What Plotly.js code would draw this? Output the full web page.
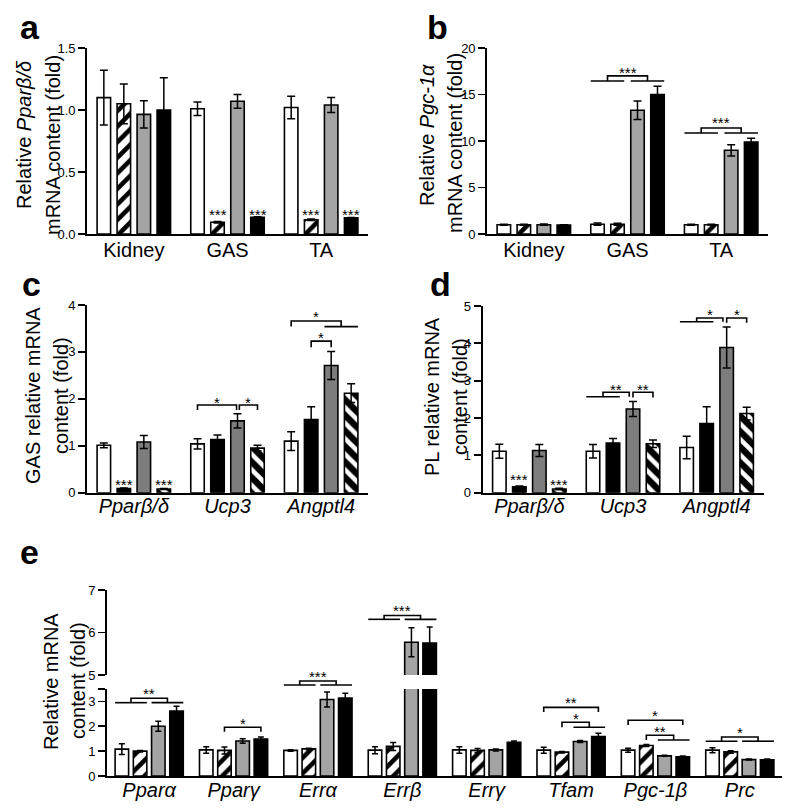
<!DOCTYPE html>
<html><head><meta charset="utf-8">
<script src="https://cdn.plot.ly/plotly-3.0.1.min.js"></script>
<style>html,body{margin:0;padding:0;background:#fff}#chart{width:800px;height:810px}</style>
</head><body><div id="chart"></div>
<script>
// ---------------- DATA ----------------
const catsA = ['Kidney', 'GAS', 'TA'];
const catsC = ['Pparβ/δ', 'Ucp3', 'Angptl4'];
const catsE = ['Pparα', 'Pparγ', 'Errα', 'Errβ', 'Errγ', 'Tfam', 'Pgc-1β', 'Prc'];

// panel a: Ppar beta/delta
const aWhite = [1.10, 1.01, 1.02],   aWhiteErr = [0.22, 0.055, 0.09];
const aHatch = [1.05, 0.095, 0.115], aHatchErr = [0.16, 0.006, 0.006];
const aGray  = [0.965, 1.07, 1.04],  aGrayErr  = [0.11, 0.055, 0.06];
const aBlack = [1.00, 0.135, 0.13],  aBlackErr = [0.26, 0.004, 0.004];

// panel b: Pgc-1 alpha
const bWhite = [1.0, 1.05, 1.0],  bWhiteErr = [0.06, 0.12, 0.06];
const bHatch = [1.0, 1.05, 1.0],  bHatchErr = [0.05, 0.10, 0.04];
const bGray  = [1.0, 13.3, 9.0],  bGrayErr  = [0.07, 1.0, 0.6];
const bBlack = [0.95, 15.0, 9.9], bBlackErr = [0.04, 0.9, 0.4];

// panel c: GAS
const cWhite  = [1.01, 1.04, 1.10], cWhiteErr  = [0.05, 0.11, 0.20];
const cBlack  = [0.09, 1.13, 1.56], cBlackErr  = [0.01, 0.10, 0.27];
const cGray   = [1.08, 1.53, 2.71], cGrayErr   = [0.14, 0.15, 0.30];
const cStripe = [0.08, 0.95, 2.12], cStripeErr = [0.01, 0.06, 0.20];

// panel d: PL
const dWhite  = [1.11, 1.11, 1.21], dWhiteErr  = [0.19, 0.18, 0.30];
const dBlack  = [0.16, 1.33, 1.85], dBlackErr  = [0.02, 0.12, 0.45];
const dGray   = [1.13, 2.24, 3.89], dGrayErr   = [0.16, 0.20, 0.55];
const dStripe = [0.10, 1.31, 2.12], dStripeErr = [0.02, 0.10, 0.17];

// panel e
const eWhite = [1.08, 1.05, 1.03, 1.04, 1.05, 1.04, 1.04, 1.04];
const eWhiteErr = [0.22, 0.13, 0.03, 0.14, 0.13, 0.12, 0.08, 0.10];
const eHatch = [1.00, 1.03, 1.09, 1.19, 1.03, 0.96, 1.23, 0.97];
const eHatchErr = [0.03, 0.14, 0.03, 0.16, 0.08, 0.03, 0.04, 0.05];
const eGray = [2.00, 1.41, 3.08, 5.77, 1.05, 1.39, 0.81, 0.66];
const eGrayErr = [0.20, 0.09, 0.30, 0.34, 0.04, 0.04, 0.02, 0.02];
const eBlack = [2.61, 1.49, 3.14, 5.75, 1.36, 1.59, 0.77, 0.65];
const eBlackErr = [0.20, 0.08, 0.19, 0.38, 0.05, 0.13, 0.03, 0.03];

// significance marks: category index, left/right series (single bar or range), levels
const starsA = [{ci:1,k:1,y:0.19,txt:'***'},{ci:1,k:3,y:0.19,txt:'***'},{ci:2,k:1,y:0.19,txt:'***'},{ci:2,k:3,y:0.19,txt:'***'}];
const sigB = [
  {ci:1, L:[0,1], R:[2,3], top:17.0, bot:16.45, star:17.8, txt:'***'},
  {ci:2, L:[0,1], R:[2,3], top:11.4, bot:10.86, star:12.42, txt:'***'}
];
const starsC = [{ci:0,k:1,y:0.27,txt:'***'},{ci:0,k:3,y:0.27,txt:'***'}];
const sigC = [
  {ci:1, L:[0], R:[2], top:1.87, bot:1.76, star:2.01, txt:'*', gr:-0.01},
  {ci:1, L:[2], R:[3], top:1.87, bot:1.76, star:2.01, txt:'*', gl:0.02},
  {ci:2, L:[0], R:[2,3], top:3.66, bot:3.54, star:3.84, txt:'*'},
  {ci:2, L:[1], R:[2], top:3.23, bot:3.10, star:3.40, txt:'*'}
];
const starsD = [{ci:0,k:1,y:0.47,txt:'***'},{ci:0,k:3,y:0.34,txt:'***'}];
const sigD = [
  {ci:1, L:[0,1], R:[2], top:2.69, bot:2.57, star:2.86, txt:'**', gr:-0.04},
  {ci:1, L:[2], R:[3], top:2.69, bot:2.55, star:2.86, txt:'**', gl:0.0},
  {ci:2, L:[0,1], R:[2], top:4.68, bot:4.58, star:4.88, txt:'*', gr:-0.04},
  {ci:2, L:[2], R:[3], top:4.68, bot:4.55, star:4.88, txt:'*', gl:0.0}
];
const sigE = [
  {ci:0, L:[0,1], R:[2,3], top:3.13, bot:2.95, star:3.46, txt:'**'},
  {ci:1, L:[1], R:[3], top:1.96, bot:1.78, star:2.28, txt:'*'},
  {ci:2, L:[0,1], R:[2,3], top:3.82, bot:3.66, star:4.15, txt:'***'},
  {ci:3, L:[0,1], R:[2,3], top:6.40, bot:6.31, star:6.61, txt:'***', upper:true},
  {ci:5, L:[0], R:[3], top:2.76, bot:2.57, star:3.12, txt:'**'},
  {ci:5, L:[1], R:[2,3], top:2.16, bot:1.96, star:2.49, txt:'*'},
  {ci:6, L:[0], R:[3], top:2.24, bot:2.05, star:2.59, txt:'*'},
  {ci:6, L:[1], R:[2,3], top:1.64, bot:1.45, star:1.96, txt:'**'},
  {ci:7, L:[0,1], R:[2,3], top:1.57, bot:1.40, star:1.90, txt:'*'}
];

// ---------------- STYLE / LAYOUT ----------------
const FONT = 'Liberation Sans, Arial, Helvetica, sans-serif';
const W = 800, H = 810;
const xd = r => [r[0] / W, r[1] / W];
const yd = r => [1 - r[1] / H, 1 - r[0] / H];
const fx = p => p / W, fy = p => 1 - p / H;

const DOM = {
  a: {x:[87,368], y:[48,234]},
  b: {x:[487,768], y:[48,234]},
  c: {x:[87,368], y:[305,492.7]},
  d: {x:[482.5,763.5], y:[306,492.7]},
  eLow: {x:[107,782], y:[689,776]},
  eUp: {y:[590,675]}
};

const S_WHITE = {color:'#ffffff'};
const S_HATCH = {color:'#ffffff', pattern:{shape:'/', fgcolor:'#000000', bgcolor:'#ffffff', size:11, solidity:0.42, fillmode:'replace'}};
const S_GRAY1 = {color:'#a4a4a4'};
const S_BLACK = {color:'#000000'};
const S_GRAY2 = {color:'#7d7d7d'};
const S_HATCH2 = {color:'#000000', pattern:{shape:'\\', fgcolor:'#ffffff', bgcolor:'#000000', size:11, solidity:0.42, fillmode:'replace'}};

const PA = {slot:0.2135, bw:0.144, cap:4};
const PE = {slot:0.216, bw:0.16, cap:3};

const traces = [];
function barTrace(cats, vals, errs, style, k, P, xa, ya) {
  return {
    type:'bar', x:cats, y:vals, xaxis:xa, yaxis:ya,
    width:P.bw, offset:(k - 1.5) * P.slot - P.bw / 2,
    marker:Object.assign({line:{color:'#000000', width:1.6}}, JSON.parse(JSON.stringify(style))),
    error_y:{type:'data', array:errs, visible:true, color:'#000000', thickness:1.5, width:P.cap},
    hoverinfo:'skip', showlegend:false
  };
}
function addPanel(cats, series, P, xa, ya) {
  series.forEach((s, k) => traces.push(barTrace(cats, s[0], s[1], s[2], k, P, xa, ya)));
}
addPanel(catsA, [[aWhite,aWhiteErr,S_WHITE],[aHatch,aHatchErr,S_HATCH],[aGray,aGrayErr,S_GRAY1],[aBlack,aBlackErr,S_BLACK]], PA, 'x', 'y');
addPanel(catsA, [[bWhite,bWhiteErr,S_WHITE],[bHatch,bHatchErr,S_HATCH],[bGray,bGrayErr,S_GRAY1],[bBlack,bBlackErr,S_BLACK]], PA, 'x2', 'y2');
addPanel(catsC, [[cWhite,cWhiteErr,S_WHITE],[cBlack,cBlackErr,S_BLACK],[cGray,cGrayErr,S_GRAY2],[cStripe,cStripeErr,S_HATCH2]], PA, 'x3', 'y3');
addPanel(catsC, [[dWhite,dWhiteErr,S_WHITE],[dBlack,dBlackErr,S_BLACK],[dGray,dGrayErr,S_GRAY2],[dStripe,dStripeErr,S_HATCH2]], PA, 'x4', 'y4');
const eSeries = [[eWhite,eWhiteErr,S_WHITE],[eHatch,eHatchErr,S_HATCH],[eGray,eGrayErr,S_GRAY1],[eBlack,eBlackErr,S_BLACK]];
addPanel(catsE, eSeries, PE, 'x5', 'y5');
addPanel(catsE, eSeries, PE, 'x5', 'y6');

// ---------------- AXES ----------------
function xAx(domPx, anchor, n, italic) {
  return {domain:xd(domPx), anchor:anchor, type:'category', range:[-0.5, n - 0.5],
    showline:true, linecolor:'#000', linewidth:1.8, ticks:'', showgrid:false, zeroline:false,
    ticklabelstandoff:-3,
    tickfont:{family:FONT, size:20, color:'#000', style:italic ? 'italic' : 'normal'}, fixedrange:true};
}
function yAx(domPx, anchor, range, extra) {
  return Object.assign({domain:yd(domPx), anchor:anchor, range:range,
    showline:true, linecolor:'#000', linewidth:1.8, ticks:'outside', ticklen:7, tickwidth:1.8, tickcolor:'#000',
    showgrid:false, zeroline:false, tickfont:{family:FONT, size:13, color:'#000'}, fixedrange:true}, extra);
}

const layout = {
  width:W, height:H, margin:{l:0, r:0, t:0, b:0}, paper_bgcolor:'#fff', plot_bgcolor:'rgba(0,0,0,0)',
  barmode:'overlay', showlegend:false, font:{family:FONT, color:'#000'},
  xaxis:xAx(DOM.a.x, 'y', 3, false),
  yaxis:yAx(DOM.a.y, 'x', [0, 1.5], {tickmode:'linear', tick0:0, dtick:0.5, tickformat:'.1f'}),
  xaxis2:xAx(DOM.b.x, 'y2', 3, false),
  yaxis2:yAx(DOM.b.y, 'x2', [0, 20], {tickmode:'linear', tick0:0, dtick:5}),
  xaxis3:xAx(DOM.c.x, 'y3', 3, true),
  yaxis3:yAx(DOM.c.y, 'x3', [0, 4], {tickmode:'linear', tick0:0, dtick:1}),
  xaxis4:xAx(DOM.d.x, 'y4', 3, true),
  yaxis4:yAx(DOM.d.y, 'x4', [0, 5], {tickmode:'linear', tick0:0, dtick:1}),
  xaxis5:xAx(DOM.eLow.x, 'y5', 8, true),
  yaxis5:yAx(DOM.eLow.y, 'x5', [0, 3.5], {tickmode:'array', tickvals:[0,1,2,3,3.5], ticktext:['0','1','2','3','']}),
  yaxis6:yAx(DOM.eUp.y, 'x5', [5, 7], {tickmode:'linear', tick0:5, dtick:1}),
  shapes:[], annotations:[]
};
layout.xaxis3.ticklabelstandoff = -6;
layout.xaxis4.ticklabelstandoff = -6;
layout.xaxis5.ticklabelstandoff = -5;

// ---------------- SIGNIFICANCE ----------------
function eMap(v, upper) {
  const dom = upper ? yd(DOM.eUp.y) : yd(DOM.eLow.y);
  const r = upper ? [5, 7] : [0, 3.5];
  return dom[0] + (v - r[0]) / (r[1] - r[0]) * (dom[1] - dom[0]);
}
function starAnno(x, y, txt, xref, yref) {
  return {x:x, y:y, xref:xref, yref:yref, text:txt, showarrow:false, xanchor:'center', yanchor:'middle',
    yshift:-4, borderpad:0, font:{family:FONT, size:15, color:'#000'}};
}
function addBrackets(list, P, xref, yref, isE) {
  list.forEach(b => {
    const ym = v => isE ? eMap(v, b.upper) : v;
    const yr = isE ? 'paper' : yref;
    const c = k => b.ci + (k - 1.5) * P.slot;
    const side = (s, nudge) => {
      if (s.length === 1) return c(s[0]) + (nudge || 0);
      const x0 = c(s[0]) - P.bw / 2, x1 = c(s[s.length - 1]) + P.bw / 2;
      layout.shapes.push({type:'line', xref:xref, yref:yr, x0:x0, x1:x1, y0:ym(b.bot), y1:ym(b.bot),
        line:{color:'#000', width:1.6}});
      return (x0 + x1) / 2;
    };
    const xl = side(b.L, b.gl), xr = side(b.R, b.gr);
    layout.shapes.push({type:'path', xref:xref, yref:yr,
      path:'M' + xl + ',' + ym(b.bot) + 'L' + xl + ',' + ym(b.top) + 'L' + xr + ',' + ym(b.top) + 'L' + xr + ',' + ym(b.bot),
      line:{color:'#000', width:1.6}});
    layout.annotations.push(starAnno((xl + xr) / 2, ym(b.star), b.txt, xref, yr));
  });
}
function addStars(list, P, xref, yref) {
  list.forEach(s => layout.annotations.push(starAnno(s.ci + (s.k - 1.5) * P.slot, s.y, s.txt, xref, yref)));
}
addStars(starsA, PA, 'x', 'y');
addBrackets(sigB, PA, 'x2', 'y2', false);
addStars(starsC, PA, 'x3', 'y3');
addBrackets(sigC, PA, 'x3', 'y3', false);
addStars(starsD, PA, 'x4', 'y4');
addBrackets(sigD, PA, 'x4', 'y4', false);
addBrackets(sigE, PE, 'x5', 'y5', true);

// ---------------- TEXT ----------------
function letter(t, xPx, basePx) {
  layout.annotations.push({text:'<b>' + t + '</b>', xref:'paper', yref:'paper', x:fx(xPx), y:fy(basePx + 8),
    xanchor:'left', yanchor:'bottom', showarrow:false, font:{family:FONT, size:34, color:'#000'}});
}
letter('a', 18, 40); letter('b', 425, 40); letter('c', 20, 297); letter('d', 428, 297); letter('e', 18, 565);

function ytitle(t, xPx, yPx) {
  layout.annotations.push({text:t, xref:'paper', yref:'paper', x:fx(xPx), y:fy(yPx), textangle:-90,
    xanchor:'center', yanchor:'middle', showarrow:false, font:{family:FONT, size:20, color:'#000'}});
}
ytitle('Relative <i>Pparβ/δ</i>', 24, 135); ytitle('mRNA content (fold)', 53, 145);
ytitle('Relative <i>Pgc-1α</i>', 427, 135); ytitle('mRNA content (fold)', 455, 143);
ytitle('GAS relative mRNA', 33, 396); ytitle('content (fold)', 61, 396);
ytitle('PL relative mRNA', 432, 397); ytitle('content (fold)', 460, 396);
ytitle('Relative mRNA', 51, 682); ytitle('content (fold)', 78, 681);

Plotly.newPlot('chart', traces, layout, {staticPlot:true, displayModeBar:false});
</script></body></html>
